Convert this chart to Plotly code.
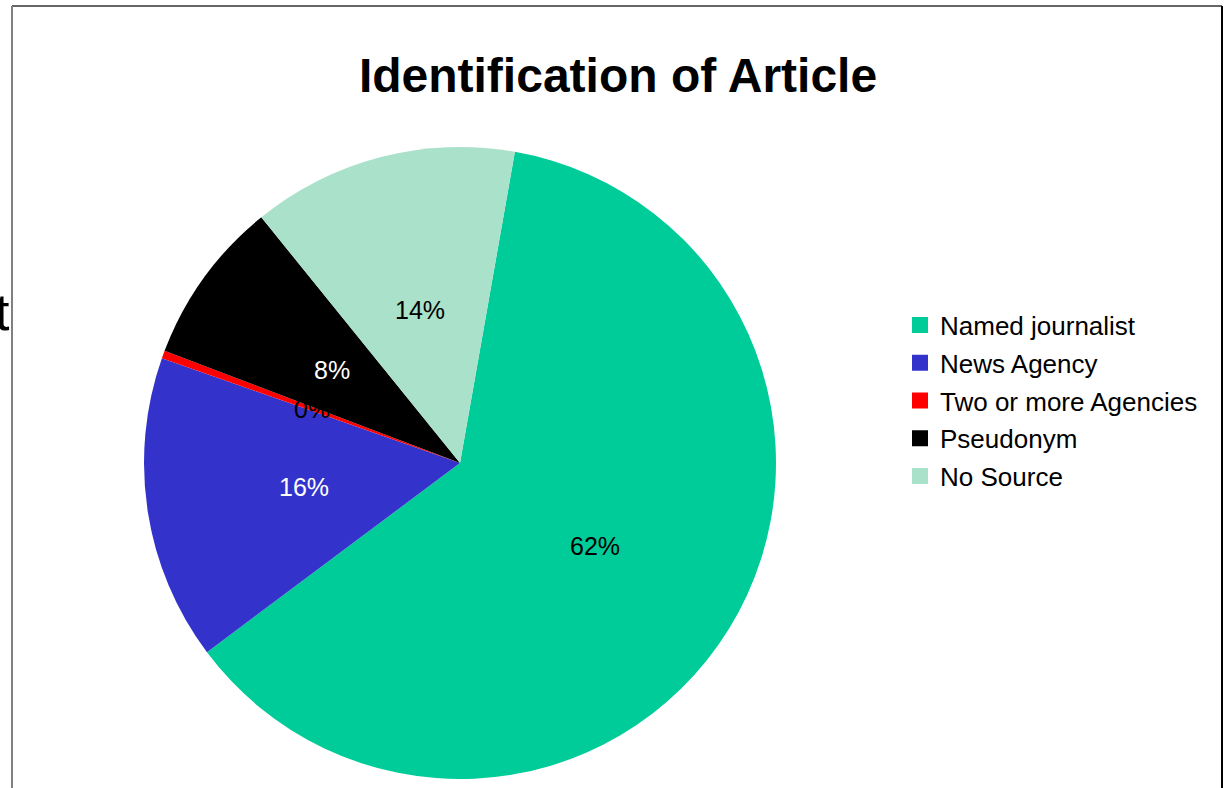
import math
import plotly.graph_objects as go

# Article identification breakdown
categories = ["Named journalist", "News Agency", "Two or more Agencies", "Pseudonym", "No Source"]
counts = [155, 39, 1, 21, 34]
colors = ["#00CC99", "#3333CC", "#FF0000", "#000000", "#AAE1CA"]
label_colors = ["#000000", "#FFFFFF", "#000000", "#FFFFFF", "#000000"]

W, H = 1227, 788
CX, CY, R = 460, 463, 316          # pie centre and radius in pixels
ROTATION = 10                       # first slice starts 10 deg clockwise of 12 o'clock
FONT = "Liberation Sans, Arial, sans-serif"


def px(x):
    return x / W


def py(y):
    return 1 - y / H


fig = go.Figure(
    go.Pie(
        labels=categories,
        values=counts,
        sort=False,
        direction="clockwise",
        rotation=ROTATION,
        marker=dict(colors=colors, line=dict(width=0)),
        textinfo="none",
        hoverinfo="label+percent",
        showlegend=False,
        domain=dict(x=[px(CX - R), px(CX + R)], y=[py(CY + R), py(CY - R)]),
    )
)

# legend entries with larger square swatches
for name, col in zip(categories, colors):
    fig.add_trace(go.Scatter(
        x=[None], y=[None], mode="markers", name=name, legendgroup=name,
        marker=dict(symbol="square", size=16, color=col),
        hoverinfo="skip",
    ))

# percentage labels at half radius along each slice's mid-angle
total = sum(counts)
start = ROTATION
annotations = []
for v, c in zip(counts, label_colors):
    sweep = 360 * v / total
    mid = math.radians(start + sweep / 2)
    lx = CX + 0.5 * R * math.sin(mid)
    ly = CY - 0.5 * R * math.cos(mid)
    annotations.append(dict(
        x=px(lx), y=py(ly), xref="paper", yref="paper",
        text=f"{round(100 * v / total)}%", showarrow=False,
        font=dict(family=FONT, size=25, color=c),
        xanchor="center", yanchor="middle",
    ))
    start += sweep

# stray glyph clipped at the left edge
annotations.append(dict(
    x=px(12), y=py(312), xref="paper", yref="paper", text="t", showarrow=False,
    font=dict(family=FONT, size=52, color="#000000"),
    xanchor="right", yanchor="middle",
))

frame = [
    dict(type="line", xref="paper", yref="paper", x0=px(12), x1=px(1222), y0=py(6), y1=py(6),
         line=dict(color="#333333", width=1.5)),
    dict(type="line", xref="paper", yref="paper", x0=px(12), x1=px(12), y0=py(6), y1=0,
         line=dict(color="#808080", width=2)),
    dict(type="line", xref="paper", yref="paper", x0=px(1222), x1=px(1222), y0=py(6), y1=0,
         line=dict(color="#000000", width=2)),
]

fig.update_layout(
    width=W, height=H,
    margin=dict(l=0, r=0, t=0, b=0),
    paper_bgcolor="#FFFFFF", plot_bgcolor="#FFFFFF",
    xaxis=dict(visible=False), yaxis=dict(visible=False),
    title=dict(text="<b>Identification of Article</b>", x=px(618), y=py(75),
               xanchor="center", yanchor="middle",
               font=dict(family=FONT, size=48, color="#000000")),
    legend=dict(x=px(900), y=py(400.5), xanchor="left", yanchor="middle",
                traceorder="grouped", tracegroupgap=0.95,
                font=dict(family=FONT, size=26, color="#000000"),
                bgcolor="rgba(0,0,0,0)"),
    annotations=annotations,
    shapes=frame,
)

fig.write_html("out.html")
